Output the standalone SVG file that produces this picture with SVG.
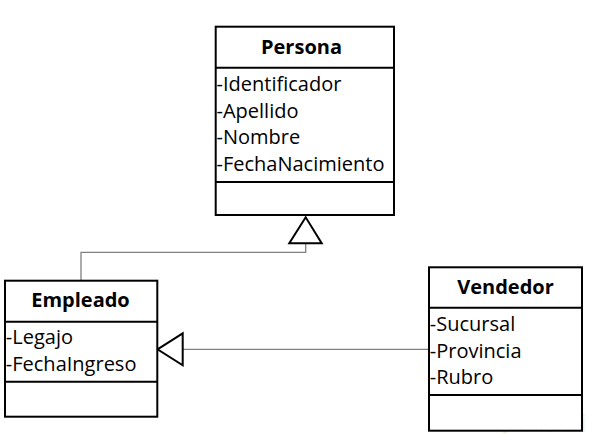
<svg xmlns="http://www.w3.org/2000/svg" width="593" height="444" viewBox="0 0 593 444">
<style>
.box{fill:#fff;stroke:#000;stroke-width:2}
.sep{stroke:#000;stroke-width:2}
.title{font-family:"Open Sans","Liberation Sans",sans-serif;font-size:20px;font-weight:bold;text-anchor:middle;fill:#000}
.attr{font-family:"Open Sans","Liberation Sans",sans-serif;font-size:20px;fill:#000}
.conn{fill:none;stroke:#808080;stroke-width:1.3}
.tri{fill:#fff;stroke:#000;stroke-width:2}
</style>
<rect width="593" height="444" fill="#fff"/>
<g id="watermark">
<path d="M505 407 L517 419 L505 431 L495 421 L503 413" fill="none" stroke="#eaf3e0" stroke-width="5" stroke-linejoin="round"/>
<text x="522" y="432" font-family="'Open Sans','Liberation Sans',sans-serif" font-size="26" fill="#ebebeb">Platzi</text>
</g>
<g id="connectors">
<polyline class="conn" points="305.7,243.3 305.7,252.3 81,252.3 81,280.7"/>
<polygon class="tri" points="305.7,217.3 289.3,243.3 321.7,243.3"/>
<line class="conn" x1="182.7" y1="349.3" x2="429" y2="349.3"/>
<polygon class="tri" points="157.5,349.3 182.7,333.3 182.7,365.3"/>
</g>
<g id="persona">
<rect class="box" x="215.7" y="26.7" width="178.3" height="188.3"/>
<line class="sep" x1="215.7" y1="67.7" x2="394" y2="67.7"/>
<line class="sep" x1="215.7" y1="182" x2="394" y2="182"/>
<text class="title" x="301.5" y="53.5">Persona</text>
<text class="attr" x="216.5" y="91">-Identificador</text>
<text class="attr" x="216.5" y="117.5">-Apellido</text>
<text class="attr" x="216.5" y="144">-Nombre</text>
<text class="attr" x="216.5" y="171">-FechaNacimiento</text>
</g>
<g id="empleado">
<rect class="box" x="5" y="280.7" width="152.3" height="136"/>
<line class="sep" x1="5" y1="321.7" x2="157.3" y2="321.7"/>
<line class="sep" x1="5" y1="381.7" x2="157.3" y2="381.7"/>
<text class="title" x="80.5" y="307">Empleado</text>
<text class="attr" x="5.8" y="344">-Legajo</text>
<text class="attr" x="5.8" y="371">-FechaIngreso</text>
</g>
<g id="vendedor">
<rect class="box" x="429" y="267.3" width="153" height="163.4"/>
<line class="sep" x1="429" y1="307.7" x2="582" y2="307.7"/>
<line class="sep" x1="429" y1="395" x2="582" y2="395"/>
<text class="title" x="505.5" y="293.5">Vendedor</text>
<text class="attr" x="429.8" y="331">-Sucursal</text>
<text class="attr" x="429.8" y="357.5">-Provincia</text>
<text class="attr" x="429.8" y="384">-Rubro</text>
</g>
</svg>
